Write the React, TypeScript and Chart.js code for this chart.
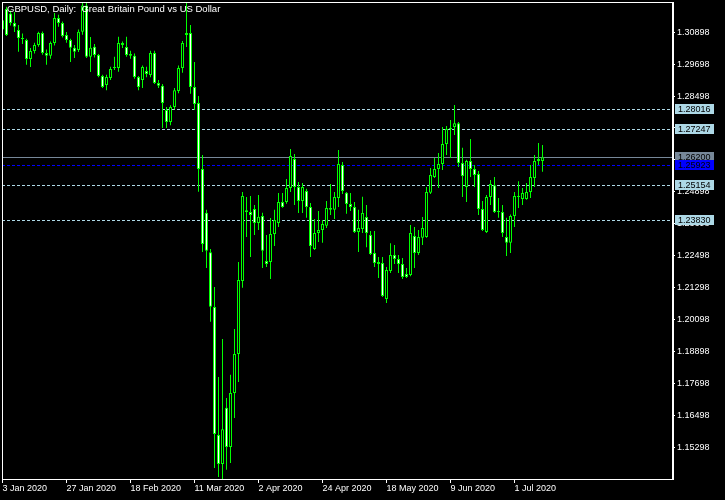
import React, { useEffect, useRef } from 'react';
import { Chart, registerables } from 'chart.js';

Chart.register(...registerables);

const FONT_FAMILY = '"Liberation Sans", Arial, sans-serif';

const chartTitle = 'GBPUSD, Daily:  Great Britain Pound vs US Dollar';

const dateTickIndex = [0, 16, 32, 48, 64, 80, 96, 112, 128];
const dateTickLabels = ['3 Jan 2020', '27 Jan 2020', '18 Feb 2020', '11 Mar 2020', '2 Apr 2020', '24 Apr 2020', '18 May 2020', '9 Jun 2020', '1 Jul 2020'];

const priceTicks = [1.15298, 1.16498, 1.17698, 1.18898, 1.20098, 1.21298, 1.22498, 1.23698, 1.24898, 1.26098, 1.27298, 1.28498, 1.29698, 1.30898];

const levelPrices = [1.28016, 1.27247, 1.25154, 1.2383];
const bidPrice = 1.262;
const markerPrice = 1.25923;

const opens = [
  1.3135, 1.3177, 1.3160, 1.3124, 1.3098, 1.3068, 1.3060, 1.2989, 1.3019, 1.3042,
  1.3087, 1.3012, 1.3001, 1.3049, 1.3143, 1.3124, 1.3079, 1.3060, 1.3031, 1.3023,
  1.3091, 1.3190, 1.2997, 1.3035, 1.3004, 1.2925, 1.2891, 1.2918, 1.2955, 1.2955,
  1.3049, 1.3034, 1.3008, 1.3001, 1.2921, 1.2910, 1.2944, 1.2929, 1.3012, 1.2899,
  1.2888, 1.2797, 1.2752, 1.2809, 1.2869, 1.2955, 1.3079, 1.3087, 1.2884, 1.2824,
  1.2576, 1.2411, 1.2263, 1.2057, 1.1576, 1.1467, 1.1678, 1.1531, 1.1734, 1.1880,
  1.2155, 1.2421, 1.2414, 1.2425, 1.2373, 1.2399, 1.2230, 1.2226, 1.2331, 1.2373,
  1.2452, 1.2452, 1.2504, 1.2613, 1.2508, 1.2455, 1.2493, 1.2433, 1.2275, 1.2335,
  1.2346, 1.2362, 1.2429, 1.2422, 1.2467, 1.2591, 1.2486, 1.2444, 1.2433, 1.2339,
  1.2350, 1.2395, 1.2328, 1.2260, 1.2226, 1.2222, 1.2087, 1.2192, 1.2252, 1.2237,
  1.2219, 1.2181, 1.2177, 1.2324, 1.2260, 1.2317, 1.2320, 1.2486, 1.2546, 1.2576,
  1.2594, 1.2670, 1.2726, 1.2733, 1.2748, 1.2598, 1.2508, 1.2606, 1.2576, 1.2557,
  1.2425, 1.2339, 1.2470, 1.2515, 1.2414, 1.2414, 1.2320, 1.2298, 1.2399, 1.2474,
  1.2463, 1.2463, 1.2489, 1.2542, 1.2606, 1.2606
];
const highs = [
  1.3143, 1.3185, 1.3170, 1.3166, 1.3117, 1.3085, 1.3065, 1.3030, 1.3050, 1.3091,
  1.3092, 1.3025, 1.3055, 1.3162, 1.3155, 1.3130, 1.3090, 1.3065, 1.3042, 1.3100,
  1.3207, 1.3207, 1.3072, 1.3045, 1.3008, 1.2930, 1.2930, 1.2960, 1.2997, 1.3073,
  1.3055, 1.3073, 1.3020, 1.3010, 1.2925, 1.2965, 1.2960, 1.3020, 1.3020, 1.2910,
  1.2895, 1.2809, 1.2815, 1.2880, 1.2965, 1.3057, 1.3203, 1.3117, 1.2978, 1.2850,
  1.2628, 1.2422, 1.2275, 1.2132, 1.1794, 1.1937, 1.1715, 1.1802, 1.1974, 1.2226,
  1.2489, 1.2470, 1.2474, 1.2440, 1.2478, 1.2411, 1.2328, 1.2391, 1.2422, 1.2485,
  1.2485, 1.2538, 1.2651, 1.2632, 1.2527, 1.2523, 1.2501, 1.2448, 1.2388, 1.2418,
  1.2384, 1.2455, 1.2519, 1.2489, 1.2647, 1.2602, 1.2489, 1.2485, 1.2452, 1.2422,
  1.2471, 1.2440, 1.2343, 1.2343, 1.2245, 1.2245, 1.2207, 1.2297, 1.2290, 1.2252,
  1.2241, 1.2204, 1.2365, 1.2358, 1.2346, 1.2395, 1.2508, 1.2579, 1.2617, 1.2636,
  1.2733, 1.2737, 1.2760, 1.2816, 1.2752, 1.2655, 1.2610, 1.2688, 1.2591, 1.2568,
  1.2455, 1.2478, 1.2534, 1.2546, 1.2467, 1.2440, 1.2392, 1.2405, 1.2489, 1.2530,
  1.2504, 1.2523, 1.2591, 1.2628, 1.2673, 1.2666
];
const lows = [
  1.3079, 1.3075, 1.3115, 1.3090, 1.3016, 1.3045, 1.2967, 1.2959, 1.3010, 1.3035,
  1.3005, 1.2967, 1.2990, 1.3040, 1.3110, 1.3070, 1.3050, 1.2978, 1.2993, 1.3015,
  1.3080, 1.2993, 1.2940, 1.2995, 1.2920, 1.2880, 1.2872, 1.2910, 1.2948, 1.2941,
  1.3030, 1.2997, 1.2990, 1.2915, 1.2872, 1.2880, 1.2920, 1.2920, 1.2895, 1.2880,
  1.2730, 1.2730, 1.2740, 1.2800, 1.2860, 1.2937, 1.3034, 1.2858, 1.2797, 1.2490,
  1.2264, 1.2204, 1.2002, 1.1452, 1.1418, 1.1410, 1.1445, 1.1471, 1.1640, 1.1775,
  1.2129, 1.2320, 1.2245, 1.2328, 1.2346, 1.2204, 1.2207, 1.2162, 1.2286, 1.2358,
  1.2430, 1.2445, 1.2489, 1.2440, 1.2410, 1.2410, 1.2392, 1.2245, 1.2271, 1.2301,
  1.2298, 1.2354, 1.2403, 1.2388, 1.2433, 1.2482, 1.2407, 1.2418, 1.2335, 1.2264,
  1.2335, 1.2282, 1.2252, 1.2207, 1.2166, 1.2095, 1.2072, 1.2185, 1.2219, 1.2185,
  1.2162, 1.2166, 1.2173, 1.2204, 1.2252, 1.2290, 1.2317, 1.2482, 1.2542, 1.2504,
  1.2572, 1.2628, 1.2617, 1.2703, 1.2583, 1.2470, 1.2452, 1.2546, 1.2508, 1.2403,
  1.2343, 1.2335, 1.2440, 1.2410, 1.2392, 1.2320, 1.2249, 1.2260, 1.2358, 1.2429,
  1.2440, 1.2460, 1.2467, 1.2508, 1.2591, 1.2565
];
const closes = [
  1.3100, 1.3079, 1.3124, 1.3110, 1.3068, 1.3064, 1.2989, 1.3019, 1.3042, 1.3087,
  1.3012, 1.3001, 1.3049, 1.3143, 1.3124, 1.3075, 1.3060, 1.3031, 1.3016, 1.3091,
  1.3190, 1.2997, 1.3031, 1.3004, 1.2925, 1.2884, 1.2921, 1.2951, 1.2959, 1.3049,
  1.3042, 1.3004, 1.3001, 1.2921, 1.2884, 1.2959, 1.2933, 1.3012, 1.2899, 1.2888,
  1.2824, 1.2752, 1.2809, 1.2872, 1.2955, 1.3049, 1.3087, 1.2884, 1.2820, 1.2576,
  1.2294, 1.2268, 1.2058, 1.1580, 1.1467, 1.1598, 1.1531, 1.1734, 1.1880, 1.2158,
  1.2474, 1.2414, 1.2403, 1.2373, 1.2396, 1.2268, 1.2219, 1.2331, 1.2384, 1.2452,
  1.2433, 1.2504, 1.2624, 1.2508, 1.2455, 1.2508, 1.2433, 1.2286, 1.2335, 1.2346,
  1.2369, 1.2429, 1.2422, 1.2470, 1.2594, 1.2493, 1.2444, 1.2433, 1.2339, 1.2354,
  1.2410, 1.2335, 1.2256, 1.2222, 1.2219, 1.2098, 1.2196, 1.2252, 1.2237, 1.2219,
  1.2170, 1.2170, 1.2335, 1.2260, 1.2320, 1.2354, 1.2489, 1.2553, 1.2576, 1.2594,
  1.2670, 1.2726, 1.2730, 1.2748, 1.2598, 1.2549, 1.2606, 1.2576, 1.2553, 1.2425,
  1.2346, 1.2470, 1.2519, 1.2414, 1.2418, 1.2335, 1.2298, 1.2399, 1.2474, 1.2470,
  1.2485, 1.2489, 1.2546, 1.2606, 1.2613, 1.2620
];

const GREEN = '#00ff00';
const LEVEL_COLOR = '#add8e6';
const BID_COLOR = '#778899';
const MARKER_COLOR = '#0000ff';

export default function App() {
  const ref = useRef<HTMLCanvasElement | null>(null);

  useEffect(() => {
    document.body.style.margin = '0';
    document.body.style.background = '#000';
    const canvas = ref.current;
    if (!canvas) return;

    const bodyData = closes.map((c, i) => ({ x: i, y: [opens[i], c] }));
    const wickData = closes.map((c, i) => ({ x: i, y: [lows[i], highs[i]] }));
    const bodyFill = closes.map((c, i) => (c < opens[i] ? '#ffffff' : '#000000'));

    const font = { family: FONT_FAMILY, size: 9 };

    const overlay = {
      id: 'mtOverlay',
      beforeDatasetsDraw(chart: any) {
        const { ctx, chartArea: a, scales } = chart;
        const y = scales.y;
        ctx.save();
        ctx.lineWidth = 1;
        const line = (p: number, color: string, dash: number[]) => {
          const py = Math.round(y.getPixelForValue(p)) + 0.5;
          ctx.strokeStyle = color;
          ctx.setLineDash(dash);
          ctx.beginPath();
          ctx.moveTo(a.left, py);
          ctx.lineTo(a.right, py);
          ctx.stroke();
        };
        levelPrices.forEach((p) => line(p, LEVEL_COLOR, [3, 2]));
        line(bidPrice, BID_COLOR, []);
        line(markerPrice, MARKER_COLOR, [3, 2]);
        ctx.restore();
      },
      afterDraw(chart: any) {
        const { ctx, chartArea: a, scales } = chart;
        const y = scales.y;
        ctx.save();
        ctx.fillStyle = '#ffffff';
        ctx.fillRect(a.left, a.top, a.right - a.left, 1);
        ctx.fillRect(a.left, a.top, 1, a.bottom - a.top);
        ctx.fillRect(a.left, a.bottom, a.right - a.left + 2, 1);
        ctx.fillRect(a.right, a.top, 2, a.bottom - a.top);
        ctx.font = `${font.size}px ${FONT_FAMILY}`;
        ctx.textBaseline = 'middle';
        ctx.textAlign = 'left';
        const box = (p: number, bg: string, fg: string) => {
          const cy = Math.round(y.getPixelForValue(p));
          ctx.fillStyle = bg;
          ctx.fillRect(a.right + 3, cy - 5, 39, 10);
          ctx.fillStyle = fg;
          ctx.fillText(p.toFixed(5), a.right + 6, cy + 0.5);
        };
        levelPrices.forEach((p) => box(p, LEVEL_COLOR, '#000000'));
        box(bidPrice, BID_COLOR, '#000000');
        box(markerPrice, MARKER_COLOR, '#000000');
        ctx.fillStyle = '#ffffff';
        ctx.font = `9.5px ${FONT_FAMILY}`;
        ctx.fillText(chartTitle, a.left + 5, a.top + 7.5);
        ctx.restore();
      },
    };

    const chart = new Chart(canvas, {
      type: 'bar',
      data: {
        datasets: [
          {
            label: 'body',
            data: bodyData as any,
            backgroundColor: bodyFill,
            borderColor: GREEN,
            borderWidth: 1,
            borderSkipped: false,
            inflateAmount: 0,
            grouped: false,
            barPercentage: 0.75,
            categoryPercentage: 1,
            order: 0,
          } as any,
          {
            label: 'wick',
            data: wickData as any,
            backgroundColor: GREEN,
            borderWidth: 0,
            inflateAmount: 0,
            grouped: false,
            barPercentage: 0.25,
            categoryPercentage: 1,
            order: 1,
          } as any,
        ],
      },
      options: {
        responsive: false,
        animation: false,
        devicePixelRatio: 1,
        layout: { padding: { left: 2, top: 2, right: 0, bottom: 0 } },
        plugins: { legend: { display: false }, tooltip: { enabled: false }, title: { display: false } },
        scales: {
          x: {
            type: 'linear',
            position: 'bottom',
            min: -0.125,
            max: 167.375,
            offset: false,
            bounds: 'data',
            grid: { display: true, drawOnChartArea: false, drawTicks: true, tickLength: 4, color: '#ffffff', offset: false },
            border: { display: false },
            ticks: {
              color: '#ffffff',
              font,
              align: 'start',
              padding: 0,
              maxRotation: 0,
              minRotation: 0,
              autoSkip: false,
              callback: (v: any) => {
                const k = dateTickIndex.indexOf(Number(v));
                return k >= 0 ? dateTickLabels[k] : '';
              },
            },
            afterBuildTicks: (s: any) => {
              s.ticks = dateTickIndex.map((v) => ({ value: v }));
            },
            afterFit: (s: any) => {
              s.height = 21;
              s.paddingLeft = 0;
              s.paddingRight = 0;
              s.paddingTop = 0;
              s.paddingBottom = 0;
            },
          },
          y: {
            type: 'linear',
            position: 'right',
            min: 1.14106,
            max: 1.32032,
            bounds: 'data',
            grid: { display: true, drawOnChartArea: false, drawTicks: true, tickLength: 3, color: '#ffffff' },
            border: { display: false },
            ticks: {
              color: '#ffffff',
              font,
              padding: 2,
              autoSkip: false,
              callback: (v: any) => Number(v).toFixed(5),
            },
            afterBuildTicks: (s: any) => {
              s.ticks = priceTicks.map((v) => ({ value: v }));
            },
            afterFit: (s: any) => {
              s.width = 53;
              s.paddingLeft = 0;
              s.paddingRight = 0;
              s.paddingTop = 0;
              s.paddingBottom = 0;
            },
          },
        },
      } as any,
      plugins: [overlay],
    });

    return () => chart.destroy();
  }, []);

  return (
    <div style={{ position: 'fixed', left: 0, top: 0, width: 725, height: 500, background: '#000' }}>
      <canvas ref={ref} width={725} height={500} style={{ display: 'block', width: 725, height: 500 }} />
    </div>
  );
}
